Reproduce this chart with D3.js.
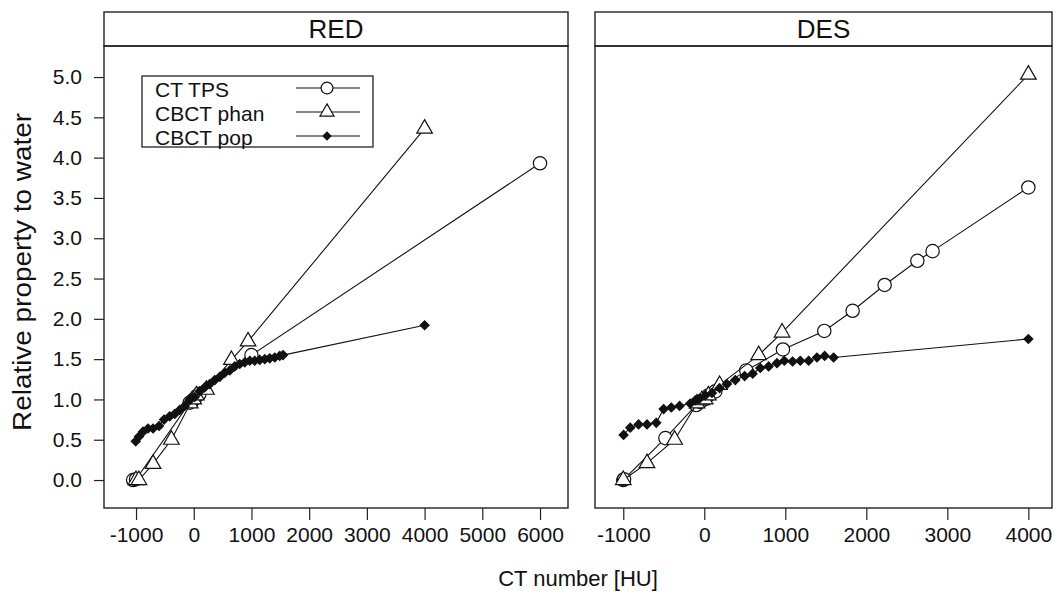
<!DOCTYPE html>
<html><head><meta charset="utf-8">
<script src="https://cdn.jsdelivr.net/npm/d3@7/dist/d3.min.js"></script>
<style>
html,body{margin:0;padding:0;background:#fff;}
text{font-family:"Liberation Sans",Arial,Helvetica,sans-serif;fill:#111;}
</style></head>
<body><svg id="chart" width="1058" height="598"></svg>
<script>
// ---- data ----
const panelNames = ["RED", "DES"];
const seriesNames = ["CT TPS", "CBCT phan", "CBCT pop"];

const redTpsHU  = [-1050, -1000, -70, -30, 0, 50, 100, 1000, 6000];
const redTpsRel = [0, 0.01, 0.96, 0.98, 1.0, 1.04, 1.07, 1.55, 3.93];
const redPhanHU  = [-1000, -950, -705, -387, -60, 0, 46, 220, 653, 941, 4000];
const redPhanRel = [0, 0, 0.2, 0.5, 0.95, 1.0, 1.05, 1.12, 1.49, 1.72, 4.36];
const redPopHU  = [-1005, -948, -879, -792, -705, -601, -514, -416, -329, -243, -156, -69, 17, 104, 191, 277, 364, 451, 537, 624, 711, 797, 884, 971, 1057, 1144, 1231, 1317, 1404, 1490, 1548, 4000];
const redPopRel = [0.48, 0.54, 0.60, 0.64, 0.64, 0.67, 0.75, 0.79, 0.82, 0.87, 0.92, 0.99, 1.03, 1.10, 1.15, 1.19, 1.24, 1.28, 1.33, 1.36, 1.41, 1.44, 1.46, 1.48, 1.48, 1.49, 1.50, 1.51, 1.52, 1.54, 1.55, 1.92];

const desTpsHU  = [-1000, -990, -480, -100, -50, 0, 50, 136, 518, 971, 1481, 1831, 2226, 2630, 2818, 4000];
const desTpsRel = [0, 0.01, 0.52, 0.93, 0.97, 1.0, 1.05, 1.10, 1.36, 1.62, 1.85, 2.10, 2.42, 2.72, 2.84, 3.63];
const desPhanHU  = [-1000, -707, -366, -90, -30, 10, 50, 189, 671, 960, 4000];
const desPhanRel = [0, 0.21, 0.50, 0.95, 0.99, 1.0, 1.05, 1.18, 1.55, 1.83, 5.03];
const desPopHU  = [-996, -914, -811, -707, -593, -502, -407, -305, -173, -111, -60, 12, 95, 189, 280, 383, 498, 597, 691, 794, 897, 988, 1090, 1185, 1288, 1391, 1486, 1596, 4000];
const desPopRel = [0.56, 0.65, 0.69, 0.69, 0.71, 0.88, 0.90, 0.92, 0.95, 0.99, 1.01, 1.05, 1.08, 1.14, 1.19, 1.24, 1.29, 1.32, 1.39, 1.41, 1.45, 1.48, 1.47, 1.48, 1.48, 1.52, 1.54, 1.52, 1.75];

const redXTicks = [-1000, 0, 1000, 2000, 3000, 4000, 5000, 6000];
const redXTickLabels = ["-1000", "0", "1000", "2000", "3000", "4000", "5000", "6000"];
const desXTicks = [-1000, 0, 1000, 2000, 3000, 4000];
const desXTickLabels = ["-1000", "0", "1000", "2000", "3000", "4000"];
const yTicks = [0, 0.5, 1, 1.5, 2, 2.5, 3, 3.5, 4, 4.5, 5];
const yTickLabels = ["0.0", "0.5", "1.0", "1.5", "2.0", "2.5", "3.0", "3.5", "4.0", "4.5", "5.0"];

// ---- layout ----
const svg = d3.select("#chart");
svg.append("rect").attr("width", 1058).attr("height", 598).attr("fill", "#fff");

const stripTop = 12, panelTop = 46, panelBottom = 508;
const y = d3.scaleLinear().domain([-0.347, 5.385]).range([panelBottom, panelTop]);

const panels = [
  { name: panelNames[0], x: d3.scaleLinear().domain([-1555, 6485]).range([104, 568]),
    ticks: redXTicks, labels: redXTickLabels,
    series: [ {hu: redTpsHU, rel: redTpsRel}, {hu: redPhanHU, rel: redPhanRel}, {hu: redPopHU, rel: redPopRel} ] },
  { name: panelNames[1], x: d3.scaleLinear().domain([-1349, 4292]).range([595, 1052]),
    ticks: desXTicks, labels: desXTickLabels,
    series: [ {hu: desTpsHU, rel: desTpsRel}, {hu: desPhanHU, rel: desPhanRel}, {hu: desPopHU, rel: desPopRel} ] }
];

const symCircle = d3.symbol().type(d3.symbolCircle).size(140);
const symTri = d3.symbol().type(d3.symbolTriangle).size(105);
const symDia = d3.symbol().type(d3.symbolSquare).size(40);
const markerDefs = [
  { path: symCircle(), fill: "#fff", stroke: "#111", rot: 0 },
  { path: symTri(), fill: "#fff", stroke: "#111", rot: 0 },
  { path: symDia(), fill: "#111", stroke: "#111", rot: 45 }
];

panels.forEach((p, pi) => {
  const [x0, x1] = p.x.range();
  const g = svg.append("g");

  // strip
  g.append("rect").attr("x", x0).attr("y", stripTop).attr("width", x1 - x0).attr("height", panelTop - stripTop)
    .attr("fill", "#fff").attr("stroke", "#222").attr("stroke-width", 1.4);
  g.append("text").attr("x", (x0 + x1) / 2).attr("y", (stripTop + panelTop) / 2 + 9)
    .attr("text-anchor", "middle").attr("font-size", 26).text(p.name);

  // clip
  const clipId = "clip" + pi;
  svg.append("clipPath").attr("id", clipId).append("rect")
    .attr("x", x0).attr("y", panelTop).attr("width", x1 - x0).attr("height", panelBottom - panelTop);

  const plot = g.append("g").attr("clip-path", `url(#${clipId})`);
  const line = d3.line().x(d => p.x(d[0])).y(d => y(d[1]));

  p.series.forEach((s, si) => {
    const pts = s.hu.map((h, i) => [h, s.rel[i]]);
    plot.append("path").datum(pts).attr("d", line).attr("fill", "none")
      .attr("stroke", "#111").attr("stroke-width", 1.1);
    const m = markerDefs[si];
    plot.selectAll(null).data(pts).enter().append("path")
      .attr("d", m.path)
      .attr("transform", d => `translate(${p.x(d[0])},${y(d[1])}) rotate(${m.rot})`)
      .attr("fill", m.fill).attr("stroke", m.stroke).attr("stroke-width", 1.2);
  });

  // panel box
  g.append("rect").attr("x", x0).attr("y", panelTop).attr("width", x1 - x0).attr("height", panelBottom - panelTop)
    .attr("fill", "none").attr("stroke", "#222").attr("stroke-width", 1.4);

  // x axis
  const xAxis = d3.axisBottom(p.x).tickValues(p.ticks).tickSize(12).tickSizeOuter(0).tickPadding(7)
    .tickFormat((d, i) => p.labels[i]);
  const xg = g.append("g").attr("transform", `translate(0,${panelBottom})`).call(xAxis);
  xg.select(".domain").remove();
  xg.selectAll(".tick line").attr("stroke", "#222").attr("stroke-width", 1.2);
  xg.selectAll(".tick text").attr("font-size", 21).attr("fill", "#111")
    .style("font-family", "'Liberation Sans', Arial, sans-serif");

  if (pi === 0) {
    const yAxis = d3.axisLeft(y).tickValues(yTicks).tickSize(10).tickSizeOuter(0).tickPadding(12)
      .tickFormat((d, i) => yTickLabels[i]);
    const yg = g.append("g").attr("transform", `translate(${x0},0)`).call(yAxis);
    yg.select(".domain").remove();
    yg.selectAll(".tick line").attr("stroke", "#222").attr("stroke-width", 1.2);
    yg.selectAll(".tick text").attr("font-size", 21).attr("fill", "#111")
      .style("font-family", "'Liberation Sans', Arial, sans-serif");
  }
});

// legend (inside RED panel)
const lg = svg.append("g");
lg.append("rect").attr("x", 142).attr("y", 76).attr("width", 231).attr("height", 71)
  .attr("fill", "#fff").attr("stroke", "#222").attr("stroke-width", 1.3);
const legSyms = [d3.symbol().type(d3.symbolCircle).size(110)(), d3.symbol().type(d3.symbolTriangle).size(85)(), d3.symbol().type(d3.symbolSquare).size(30)()];
seriesNames.forEach((name, i) => {
  const ly = 88 + i * 24;
  lg.append("text").attr("x", 155).attr("y", ly + 9).attr("font-size", 21).text(name);
  lg.append("line").attr("x1", 296).attr("x2", 360).attr("y1", ly).attr("y2", ly)
    .attr("stroke", "#111").attr("stroke-width", 1.1);
  lg.append("path").attr("d", legSyms[i])
    .attr("transform", `translate(327,${ly}) rotate(${markerDefs[i].rot})`)
    .attr("fill", markerDefs[i].fill).attr("stroke", "#111").attr("stroke-width", 1.2);
});

// axis titles
svg.append("text").attr("x", 578).attr("y", 586).attr("text-anchor", "middle").attr("font-size", 22)
  .text("CT number [HU]");
svg.append("text").attr("transform", "translate(31,272) rotate(-90)").attr("text-anchor", "middle")
  .attr("font-size", 25).attr("textLength", 318).attr("lengthAdjust", "spacingAndGlyphs")
  .text("Relative property to water");
</script></body></html>
